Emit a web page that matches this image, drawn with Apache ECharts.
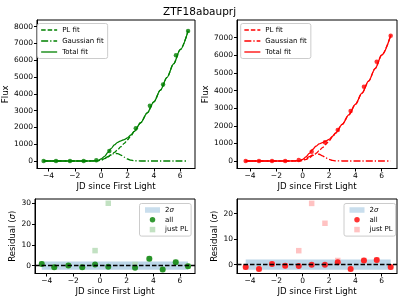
<!DOCTYPE html>
<html><head><meta charset="utf-8">
<script src="https://cdn.jsdelivr.net/npm/echarts@6/dist/echarts.min.js"></script>
<style>html,body{margin:0;padding:0;background:#fff}#c{width:399px;height:297px}</style>
</head><body><div id="c"></div>
<script>
const titleText = 'ZTF18abauprj';
const xLabelText = 'JD since First Light';
// ---- green (left) panel ----
const gEpoch = [-4.37, -3.43, -2.37, -1.33, -0.37, 0.62, 2.63, 3.70, 4.70, 5.68, 6.60];
const gFlux  = [0, 0, 0, 0, 50, 600, 1950, 3290, 4550, 6300, 7750];
const gResAll = [0.8, -0.8, 0.0, -0.8, 0.5, -0.6, -1.1, 3.3, -1.9, 1.6, -0.3];
const gResPL  = [0.8, -0.8, 0.0, -0.8, 7.2, 30.0, 0.5, 3.3, -1.9, 1.6, -0.3];
const gFitX   = [-4.37, -3, -2, -1, -0.5, -0.25, 0, 0.25, 0.5, 0.75, 1.0, 1.25, 1.5, 1.75, 2.0, 2.25, 2.5, 3.0, 3.5, 4.0, 4.5, 5.0, 5.5, 6.0, 6.6];
const gPL     = [0, 0, 0, 0, 0, 12, 61, 139, 241, 365, 508, 671, 852, 1050, 1264, 1496, 1742, 2278, 2871, 3522, 4225, 4979, 5790, 6630, 7750];
const gGauss  = [0, 0, 0, 0, 6, 22, 61, 138, 252, 375, 452, 443, 352, 227, 119, 51, 17, 1, 0, 0, 0, 0, 0, 0, 0];
const gTotal  = [0, 0, 0, 0, 6, 34, 122, 277, 493, 740, 960, 1114, 1204, 1277, 1383, 1547, 1759, 2279, 2871, 3522, 4225, 4979, 5790, 6630, 7750];
// ---- red (right) panel ----
const rEpoch = [-4.33, -3.32, -2.33, -1.33, -0.30, 0.68, 1.69, 2.66, 3.64, 4.65, 5.62, 6.68];
const rFlux  = [0, 0, 0, 0, 57, 530, 1060, 1760, 2840, 4217, 5636, 7111];
const rResAll = [-1.0, -1.7, 0.26, -0.5, -0.6, -0.1, -0.1, 0.9, -1.7, 1.6, 1.8, -1.0];
const rResPL  = [-1.0, -1.7, 0.26, -0.5, 5.45, 24.0, 16.2, 1.6, -1.7, 1.6, 1.8, -1.0];
const rFitX   = [-4.33, -3, -2, -1, -0.5, -0.25, 0, 0.25, 0.5, 0.75, 1.0, 1.25, 1.5, 1.75, 2.0, 2.25, 2.5, 3.0, 3.5, 4.0, 4.5, 5.0, 5.5, 6.0, 6.68];
const rPL     = [0, 0, 0, 0, 0, 0, 25, 90, 180, 300, 430, 585, 755, 940, 1140, 1355, 1580, 2080, 2620, 3215, 3850, 4530, 5250, 6020, 7130];
const rGauss  = [0, 0, 0, 0, 7, 24, 65, 141, 248, 353, 408, 383, 293, 181, 91, 37, 12, 1, 0, 0, 0, 0, 0, 0, 0];
const rTotal  = [0, 0, 0, 0, 7, 24, 90, 231, 428, 653, 838, 968, 1048, 1121, 1231, 1392, 1592, 2081, 2620, 3215, 3850, 4530, 5250, 6020, 7130];
const sigmaBand = 2;
// ---- ticks ----
const xTicks = [-4, -2, 0, 2, 4, 6];
const yTicksG = [0, 1000, 2000, 3000, 4000, 5000, 6000, 7000, 8000];
const yTicksR = [0, 1000, 2000, 3000, 4000, 5000, 6000, 7000];
const resTicksG = [0, 10, 20, 30];
const resTicksR = [0, 10, 20];

const FONT = 'DejaVu Sans';
const GREEN = '#008000', RED = '#ff0000';
const LGREEN = '#b3d9b3', LRED = '#ffb3b3', BAND = '#bcd6e8';
const lw = 1.3;
const DASH = [4.5, 2];
const DASHDOT = [7, 2, 1.3, 2];

const pairs = (xs, ys) => xs.map((x, i) => [x, ys[i]]);
const fmt = v => (v < 0 ? '\u2212' + Math.abs(v) : String(v));

function xAxis(gi, min, max) {
  return {
    type: 'value', gridIndex: gi, min, max,
    name: xLabelText, nameLocation: 'middle', nameGap: 13.5,
    nameTextStyle: {fontFamily: FONT, fontSize: 8.6, color: '#000'},
    axisLine: {show: true, onZero: false, lineStyle: {color: '#000', width: 1}},
    axisTick: {show: true, inside: false, length: 3, customValues: xTicks, lineStyle: {color: '#000', width: 1}},
    axisLabel: {show: true, margin: 4, customValues: xTicks, formatter: fmt, fontFamily: FONT, fontSize: 7.5, color: '#000'},
    splitLine: {show: false}
  };
}
function yAxis(gi, min, max, ticks, name, gap) {
  return {
    type: 'value', gridIndex: gi, min, max,
    name, nameLocation: 'middle', nameGap: gap,
    nameTextStyle: {fontFamily: FONT, fontSize: 8.6, color: '#000', rich: {i: {fontFamily: FONT, fontSize: 8.6, fontStyle: 'italic', color: '#000'}}},
    axisLine: {show: true, onZero: false, lineStyle: {color: '#000', width: 1}},
    axisTick: {show: true, inside: false, length: 3, customValues: ticks, lineStyle: {color: '#000', width: 1}},
    axisLabel: {show: true, margin: 4, customValues: ticks, formatter: fmt, fontFamily: FONT, fontSize: 7.5, color: '#000'},
    splitLine: {show: false}
  };
}
function fitSeries(name, xi, yi, xs, ys, color, type) {
  return {
    name, type: 'line', xAxisIndex: xi, yAxisIndex: yi,
    data: pairs(xs, ys), symbol: 'none', smooth: 0.3, smoothMonotone: 'x',
    lineStyle: {color, width: lw, type}, itemStyle: {color}, z: 3, silent: true
  };
}
function fitLegend(left, color) {
  const types = {'PL fit': DASH, 'Gaussian fit': DASHDOT, 'Total fit': 'solid'};
  return {
    orient: 'vertical', left, top: 23.5, padding: [2.5, 4, 2.5, 3],
    itemWidth: 16, itemHeight: 7, itemGap: 3,
    backgroundColor: 'rgba(255,255,255,0.8)', borderColor: '#cccccc', borderWidth: 1, borderRadius: 2,
    textStyle: {fontFamily: FONT, fontSize: 7, color: '#000', lineHeight: 8},
    selectedMode: false,
    data: Object.keys(types).map(n => ({name: n,
      itemStyle: {color, opacity: 0, borderWidth: 0},
      lineStyle: {color, width: lw, type: types[n]}}))
  };
}
function resLegend(left, dark, light) {
  return {
    orient: 'vertical', left, top: 203.5, padding: [2.5, 3, 2.5, 5.5],
    itemWidth: 15, itemHeight: 5.5, itemGap: 1.8,
    backgroundColor: 'rgba(255,255,255,0.8)', borderColor: '#cccccc', borderWidth: 1, borderRadius: 2,
    textStyle: {fontFamily: FONT, fontSize: 7, color: '#000', lineHeight: 8,
      rich: {i: {fontFamily: FONT, fontSize: 7, fontStyle: 'italic', color: '#000'}}},
    formatter: n => (n === '2\u03c3' ? '2{i|\u03c3}' : n),
    selectedMode: false,
    data: [
      {name: '2\u03c3', icon: 'rect', itemStyle: {color: BAND}},
      {name: 'all', icon: 'circle', itemStyle: {color: dark}},
      {name: 'just PL', icon: 'path://M0,0L1,0L1,1L0,1Z', itemStyle: {color: light}}
    ]
  };
}
function bandSeries(xi, yi, xs) {
  return {
    name: '2\u03c3', type: 'scatter', xAxisIndex: xi, yAxisIndex: yi, data: [],
    itemStyle: {color: BAND}, silent: true, z: 1,
    markArea: {silent: true, itemStyle: {color: BAND, opacity: 1},
      data: [[{xAxis: xs[0], yAxis: -sigmaBand}, {xAxis: xs[xs.length - 1], yAxis: sigmaBand}]]},
    markLine: {silent: true, symbol: 'none', label: {show: false},
      lineStyle: {color: '#000', type: [4.5, 2], width: 1.3},
      data: [{yAxis: 0}]}
  };
}

const chart = echarts.init(document.getElementById('c'), null, {renderer: 'canvas'});
chart.setOption({
  animation: false,
  backgroundColor: '#fff',
  title: {text: titleText, left: 'center', top: 2, textStyle: {fontFamily: FONT, fontSize: 10.5, fontWeight: 'normal', color: '#000'}},
  grid: [
    {left: 35, top: 20, width: 160, height: 148.5, show: true, borderColor: '#000', borderWidth: 1, backgroundColor: '#fff'},
    {left: 237, top: 20, width: 160, height: 148.5, show: true, borderColor: '#000', borderWidth: 1, backgroundColor: '#fff'},
    {left: 35, top: 199, width: 160, height: 75, show: true, borderColor: '#000', borderWidth: 1, backgroundColor: '#fff'},
    {left: 237, top: 199, width: 160, height: 75, show: true, borderColor: '#000', borderWidth: 1, backgroundColor: '#fff'}
  ],
  xAxis: [
    xAxis(0, -4.875, 7.125),
    xAxis(1, -4.99, 7.16),
    xAxis(2, -4.875, 7.125),
    xAxis(3, -4.99, 7.16)
  ],
  yAxis: [
    yAxis(0, -447, 8398, yTicksG, 'Flux', 25),
    yAxis(1, -426, 8006, yTicksR, 'Flux', 25),
    yAxis(2, -3.83, 32.06, resTicksG, 'Residual ({i|\u03c3})', 16),
    yAxis(3, -3.51, 25.73, resTicksR, 'Residual ({i|\u03c3})', 16)
  ],
  legend: [
    fitLegend(37.5, GREEN),
    fitLegend(240.7, RED),
    resLegend(139.5, GREEN, LGREEN),
    resLegend(344, RED, LRED)
  ],
  series: [
    fitSeries('PL fit', 0, 0, gFitX, gPL, GREEN, DASH),
    fitSeries('Gaussian fit', 0, 0, gFitX, gGauss, GREEN, DASHDOT),
    fitSeries('Total fit', 0, 0, gFitX, gTotal, GREEN, 'solid'),
    {type: 'scatter', xAxisIndex: 0, yAxisIndex: 0, data: pairs(gEpoch, gFlux), symbol: 'circle', symbolSize: 4.5, itemStyle: {color: GREEN}, z: 4, silent: true},
    fitSeries('PL fit', 1, 1, rFitX, rPL, RED, DASH),
    fitSeries('Gaussian fit', 1, 1, rFitX, rGauss, RED, DASHDOT),
    fitSeries('Total fit', 1, 1, rFitX, rTotal, RED, 'solid'),
    {type: 'scatter', xAxisIndex: 1, yAxisIndex: 1, data: pairs(rEpoch, rFlux), symbol: 'circle', symbolSize: 4.5, itemStyle: {color: RED}, z: 4, silent: true},
    bandSeries(2, 2, gEpoch),
    {name: 'just PL', type: 'scatter', xAxisIndex: 2, yAxisIndex: 2, data: pairs(gEpoch, gResPL), symbol: 'rect', symbolSize: 5.5, itemStyle: {color: LGREEN}, z: 3, silent: true},
    {name: 'all', type: 'scatter', xAxisIndex: 2, yAxisIndex: 2, data: pairs(gEpoch, gResAll), symbol: 'circle', symbolSize: 6, itemStyle: {color: GREEN}, z: 4, silent: true},
    bandSeries(3, 3, rEpoch),
    {name: 'just PL', type: 'scatter', xAxisIndex: 3, yAxisIndex: 3, data: pairs(rEpoch, rResPL), symbol: 'rect', symbolSize: 5.5, itemStyle: {color: LRED}, z: 3, silent: true},
    {name: 'all', type: 'scatter', xAxisIndex: 3, yAxisIndex: 3, data: pairs(rEpoch, rResAll), symbol: 'circle', symbolSize: 6, itemStyle: {color: RED}, z: 4, silent: true}
  ]
});
</script>
</body></html>
